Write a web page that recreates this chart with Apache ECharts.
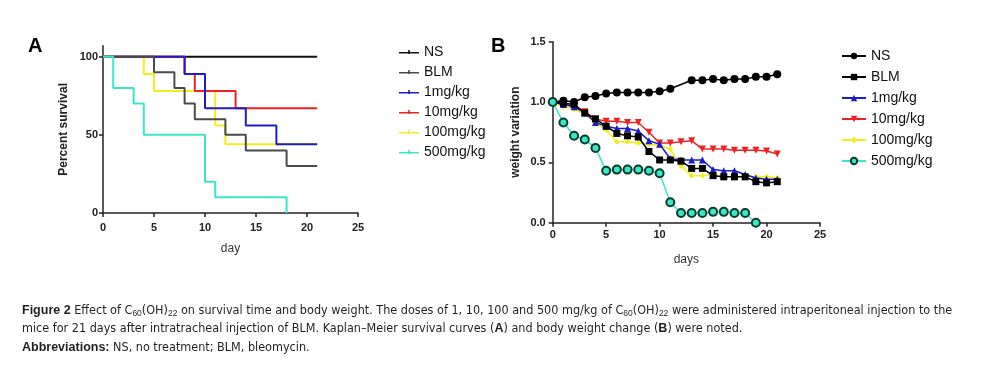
<!DOCTYPE html>
<html>
<head>
<meta charset="utf-8">
<script src="https://cdn.jsdelivr.net/npm/echarts@6/dist/echarts.min.js"></script>
<style>
  html, body { margin: 0; padding: 0; background: #fff; }
  #chart { width: 981px; height: 375px; }
</style>
</head>
<body>
<div id="chart"></div>
<script>
// panel A: Kaplan-Meier steps, [day, percent survival]
const seriesNames = ['NS', 'BLM', '1mg/kg', '10mg/kg', '100mg/kg', '500mg/kg'];
const kmNS = [[0, 100], [21, 100]];
const kmBLM = [[0, 100], [5, 90], [7, 80], [8, 70], [9, 60], [12, 50], [14, 40], [18, 30], [21, 30]];
const km1 = [[0, 100], [8, 89], [10, 67], [14, 56], [17, 44], [21, 44]];
const km10 = [[0, 100], [8, 89], [9, 78], [13, 67], [21, 67]];
const km100 = [[0, 100], [4, 89], [5, 78], [11, 56], [12, 44], [21, 44]];
const km500 = [[0, 100], [1, 80], [3, 70], [4, 50], [10, 20], [11, 10], [18, 0]];

// panel B: weight variation by day
const days = [0, 1, 2, 3, 4, 5, 6, 7, 8, 9, 10, 11, 12, 13, 14, 15, 16, 17, 18, 19, 20, 21];
const nsDays = [0, 1, 2, 3, 4, 5, 6, 7, 8, 9, 10, 11, 13, 14, 15, 16, 17, 18, 19, 20, 21];
const wNS = [1.0, 1.01, 1.0, 1.04, 1.05, 1.07, 1.08, 1.08, 1.08, 1.08, 1.09, 1.11, 1.18, 1.18, 1.19, 1.18, 1.19, 1.19, 1.21, 1.21, 1.23];
const wBLM = [1.0, 0.99, 0.98, 0.91, 0.86, 0.80, 0.74, 0.72, 0.71, 0.59, 0.52, 0.52, 0.51, 0.45, 0.45, 0.39, 0.38, 0.38, 0.38, 0.34, 0.33, 0.34];
const w1 = [1.0, 0.98, 0.96, 0.91, 0.83, 0.80, 0.78, 0.78, 0.76, 0.68, 0.65, 0.53, 0.52, 0.52, 0.52, 0.44, 0.43, 0.43, 0.40, 0.37, 0.36, 0.36];
const w10 = [1.0, 0.98, 0.97, 0.92, 0.86, 0.84, 0.84, 0.83, 0.83, 0.75, 0.66, 0.66, 0.67, 0.68, 0.61, 0.61, 0.61, 0.60, 0.60, 0.60, 0.595, 0.57];
const w100 = [1.0, 0.96, 0.94, 0.90, 0.83, 0.77, 0.67, 0.67, 0.66, 0.65, 0.64, 0.61, 0.47, 0.39, 0.39, 0.40, 0.38, 0.38, 0.38, 0.38, 0.38, 0.37];
const w500 = [1.0, 0.83, 0.72, 0.69, 0.62, 0.43, 0.44, 0.44, 0.44, 0.43, 0.41, 0.17, 0.08, 0.08, 0.08, 0.09, 0.09, 0.08, 0.08, 0.0];

const yTicksA = [0, 50, 100];

const FONT = 'Liberation Sans, Arial, sans-serif';
const CAPTION_FONT = 'Liberation Sans Narrow, DejaVu Sans Condensed, sans-serif';
const colors = { NS: '#111', BLM: '#4a4a4a', one: '#1c1cc8', ten: '#ee2222', hundred: '#f2ee1c', five: '#3ce6c8' };
// line with a small censor tick, used as legend icon in panel A
const tickIcon = 'path://M0,4 L20,4 L20,5.6 L0,5.6 Z M9.2,2 L10.8,2 L10.8,6 L9.2,6 Z';

function pair (xs, ys) {
  return ys.map((v, i) => [xs[i], v]);
}

function axisCommon (grid) {
  return {
    gridIndex: grid,
    type: 'value',
    axisLine: { show: true, lineStyle: { color: '#222', width: 1.5 } },
    axisTick: { show: true, length: 4, lineStyle: { color: '#222', width: 1.5 } },
    splitLine: { show: false },
    axisLabel: { color: '#222', fontFamily: FONT, fontWeight: 'bold', fontSize: 11 },
    nameLocation: 'middle',
    nameTextStyle: { color: '#333', fontFamily: FONT, fontSize: 12 }
  };
}

const chart = echarts.init(document.getElementById('chart'), null, { renderer: 'canvas' });

function kmSeries (name, data, color, z) {
  return {
    name: name, type: 'line', xAxisIndex: 0, yAxisIndex: 0,
    step: 'end', data: data, symbol: 'none', z: z,
    lineStyle: { color: color, width: 2 }, itemStyle: { color: color },
    animation: false
  };
}

function wSeries (name, data, color, symbol, size, z, border) {
  return {
    name: name, type: 'line', xAxisIndex: 1, yAxisIndex: 1,
    data: data, symbol: symbol, symbolSize: size, z: z,
    lineStyle: { color: color, width: 1.5 },
    itemStyle: border ? { color: color, borderColor: border, borderWidth: 2 } : { color: color },
    animation: false
  };
}

const option = {
  backgroundColor: '#fff',
  animation: false,
  grid: [
    { left: 103, top: 45.8, width: 255, height: 167.2 },
    { left: 552.7, top: 41.7, width: 267.3, height: 181 }
  ],
  xAxis: [
    Object.assign(axisCommon(0), { min: 0, max: 25, interval: 5, name: 'day', nameGap: 30,
      axisLabel: Object.assign(axisCommon(0).axisLabel, { margin: 9 }) }),
    Object.assign(axisCommon(1), { min: 0, max: 25, interval: 5, name: 'days', nameGap: 31,
      axisLabel: Object.assign(axisCommon(1).axisLabel, { margin: 7 }) })
  ],
  yAxis: [
    Object.assign(axisCommon(0), { min: 0, max: 107, name: 'Percent survival', nameGap: 33,
      axisLabel: Object.assign(axisCommon(0).axisLabel, { customValues: yTicksA, margin: 5 }),
      axisTick: { show: true, length: 4, customValues: yTicksA, lineStyle: { color: '#222', width: 1.5 } },
      nameTextStyle: { color: '#222', fontFamily: FONT, fontSize: 12, fontWeight: 'bold' } }),
    Object.assign(axisCommon(1), { min: 0, max: 1.5, interval: 0.5, name: 'weight variation', nameGap: 31,
      axisLabel: Object.assign(axisCommon(1).axisLabel, { margin: 7, formatter: v => v.toFixed(1) }),
      nameTextStyle: { color: '#222', fontFamily: FONT, fontSize: 12, fontWeight: 'bold' } })
  ],
  legend: [
    {
      orient: 'vertical', left: 399, top: 45, itemWidth: 20, itemHeight: 8, itemGap: 6,
      data: seriesNames.map(n => ({ name: n, icon: tickIcon })),
      textStyle: { color: '#111', fontFamily: FONT, fontSize: 14 },
      padding: 0, selectedMode: false
    },
    {
      orient: 'vertical', left: 841, top: 49, itemWidth: 24, itemHeight: 8, itemGap: 7,
      data: seriesNames.map(n => ({ name: n + ' ' })),
      textStyle: { color: '#111', fontFamily: FONT, fontSize: 14 },
      padding: 0, selectedMode: false
    }
  ],
  graphic: [
    { type: 'text', left: 28, top: 36, style: { text: 'A', font: 'bold 20px ' + FONT, fill: '#000' } },
    { type: 'text', left: 491, top: 36, style: { text: 'B', font: 'bold 20px ' + FONT, fill: '#000' } },
    {
      type: 'text', left: 22, top: 304,
      style: {
        text: '{b|Figure 2} Effect of C{s|60}(OH){s|22} on survival time and body weight. The doses of 1, 10, 100 and 500 mg/kg of C{s|60}(OH){s|22} were administered intraperitoneal injection to the',
        fontFamily: CAPTION_FONT, fontSize: 12.5, fill: '#231f20',
        rich: { b: { fontWeight: 'bold', fontSize: 12.5, lineHeight: 16 }, s: { fontSize: 8.5, lineHeight: 9, verticalAlign: 'bottom' } }
      }
    },
    {
      type: 'text', left: 22, top: 322,
      style: {
        text: 'mice for 21 days after intratracheal injection of BLM. Kaplan\u2013Meier survival curves ({b|A}) and body weight change ({b|B}) were noted.',
        fontFamily: CAPTION_FONT, fontSize: 12.5, fill: '#231f20',
        rich: { b: { fontWeight: 'bold', fontSize: 12.5 } }
      }
    },
    {
      type: 'text', left: 22, top: 341,
      style: {
        text: '{b|Abbreviations:} NS, no treatment; BLM, bleomycin.',
        fontFamily: CAPTION_FONT, fontSize: 12.5, fill: '#231f20',
        rich: { b: { fontWeight: 'bold', fontSize: 12.5 } }
      }
    }
  ],
  series: [
    kmSeries('NS', kmNS, colors.NS, 2),
    kmSeries('BLM', kmBLM, colors.BLM, 6),
    kmSeries('1mg/kg', km1, colors.one, 5),
    kmSeries('10mg/kg', km10, colors.ten, 4),
    kmSeries('100mg/kg', km100, colors.hundred, 3),
    kmSeries('500mg/kg', km500, colors.five, 7),

    wSeries('NS ', pair(nsDays, wNS), '#000', 'circle', 8, 6),
    wSeries('BLM ', pair(days, wBLM), '#000', 'rect', 7, 5),
    wSeries('1mg/kg ', pair(days, w1), colors.one, 'triangle', 7, 4),
    wSeries('10mg/kg ', pair(days, w10), colors.ten, 'path://M0,0 L10,0 L5,9 Z', 7, 3),
    wSeries('100mg/kg ', pair(days, w100), colors.hundred, 'diamond', 6, 2),
    wSeries('500mg/kg ', pair(days, w500), colors.five, 'circle', 8, 7, '#0b3d2a')
  ]
};

chart.setOption(option);
</script>
</body>
</html>
